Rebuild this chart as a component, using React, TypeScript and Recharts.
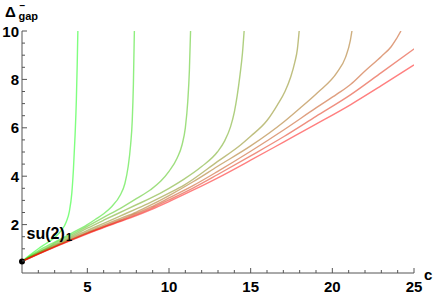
import React from "react";
import { LineChart, Line, XAxis, YAxis, ReferenceDot } from "recharts";

document.body.style.margin = "0";

// each curve: [c, gap] pairs, greenest first
const curve1 = [[1, 0.48], [1.5, 0.75], [2, 1.0], [2.5, 1.23], [3, 1.47], [3.4, 1.75], [3.7, 2.1], [3.9, 2.55], [4.05, 3.3], [4.15, 4.3], [4.25, 5.7], [4.33, 7.2], [4.38, 8.6], [4.42, 10]];
const curve2 = [[1, 0.48], [2, 0.92], [3, 1.28], [4, 1.63], [5, 2.0], [5.5, 2.22], [6, 2.45], [6.5, 2.75], [7, 3.2], [7.3, 3.7], [7.5, 4.4], [7.65, 5.3], [7.75, 6.3], [7.82, 7.8], [7.88, 10]];
const curve3 = [[1, 0.48], [2, 0.87], [3, 1.22], [4, 1.57], [5, 1.93], [6, 2.3], [7, 2.66], [8, 3.07], [8.87, 3.44], [9.5, 3.8], [10, 4.2], [10.5, 4.75], [10.8, 5.3], [11.0, 6.0], [11.15, 7.1], [11.25, 8.4], [11.32, 10]];
const curve4 = [[1, 0.48], [2, 0.84], [3, 1.17], [4, 1.5], [5, 1.85], [6, 2.18], [7, 2.5], [8, 2.82], [8.87, 3.09], [10, 3.5], [10.9, 3.87], [12, 4.4], [12.96, 5.0], [13.4, 5.45], [13.77, 6.05], [14.0, 6.65], [14.18, 7.35], [14.35, 8.2], [14.5, 9.1], [14.6, 10]];
const curve5 = [[1, 0.48], [2, 0.82], [3, 1.13], [4, 1.45], [5, 1.76], [6, 2.05], [7, 2.35], [8, 2.65], [8.87, 2.92], [10, 3.3], [10.9, 3.62], [12.96, 4.6], [14.4, 5.3], [15, 5.65], [16, 6.3], [16.64, 6.95], [17.1, 7.5], [17.45, 8.1], [17.7, 8.7], [17.86, 9.25], [17.97, 10]];
const curve6 = [[1, 0.48], [2, 0.8], [3, 1.1], [4, 1.4], [5, 1.7], [6, 1.98], [7, 2.25], [8, 2.52], [8.87, 2.8], [10, 3.2], [11.5, 3.78], [12.96, 4.4], [15, 5.25], [17.04, 6.25], [18, 6.8], [19.09, 7.45], [20.3, 8.3], [20.8, 8.9], [21.1, 9.6], [21.2, 10]];
const curve7 = [[1, 0.48], [2, 0.79], [3, 1.09], [4, 1.38], [5, 1.66], [6, 1.93], [7, 2.19], [8, 2.46], [8.87, 2.72], [10, 3.1], [11.5, 3.62], [12.96, 4.19], [15, 5.03], [17.04, 5.92], [19, 6.82], [20.3, 7.4], [21.13, 7.8], [22, 8.35], [23, 8.95], [23.6, 9.35], [23.9, 9.65], [24.2, 10]];
const curve8 = [[1, 0.48], [2, 0.78], [3, 1.08], [4, 1.36], [5, 1.64], [6, 1.9], [7, 2.15], [8, 2.41], [8.87, 2.66], [10, 3.02], [11.5, 3.52], [12.96, 4.06], [15, 4.84], [17.04, 5.64], [19, 6.47], [21.13, 7.37], [23, 8.28], [25, 9.26]];
const curve9 = [[1, 0.48], [2, 0.78], [3, 1.07], [4, 1.35], [5, 1.62], [6, 1.88], [7, 2.12], [8, 2.37], [8.87, 2.61], [10, 2.95], [11.5, 3.43], [12.96, 3.92], [15, 4.66], [17.04, 5.42], [19, 6.15], [21.13, 6.96], [23, 7.74], [25, 8.6]];

const curves = [curve1, curve2, curve3, curve4, curve5, curve6, curve7, curve8, curve9];

const startPoint = { c: 1, gap: 0.48 };

const xTicks = [2, 3, 4, 5, 6, 7, 8, 9, 10, 11, 12, 13, 14, 15, 16, 17, 18, 19, 20, 21, 22, 23, 24, 25];
const xLabels = [5, 10, 15, 20, 25];
const yTicks = [0.5, 1, 1.5, 2, 2.5, 3, 3.5, 4, 4.5, 5, 5.5, 6, 6.5, 7, 7.5, 8, 8.5, 9, 9.5, 10];
const yLabels = [2, 4, 6, 8, 10];

const font = "'Liberation Sans', Arial, sans-serif";
const axisColor = "#555";

// green -> red blend, half transparent like the original
const curveColor = (i: number) => {
  const t = i / (curves.length - 1);
  return `rgb(${Math.round(255 * t)}, ${Math.round(255 * (1 - t))}, 0)`;
};

const XTick = (props: any) => {
  const { x, y, payload } = props;
  const major = xLabels.includes(payload.value);
  return (
    <g>
      <line x1={x} x2={x} y1={y} y2={y - (major ? 5 : 3)} stroke={axisColor} />
      {major && (
        <text x={x} y={y + 19} textAnchor="middle" fontFamily={font} fontWeight="bold" fontSize={15} fill="#000">
          {payload.value}
        </text>
      )}
    </g>
  );
};

const YTick = (props: any) => {
  const { x, y, payload } = props;
  const major = yLabels.includes(payload.value);
  return (
    <g>
      <line x1={x} x2={x + (major ? 5 : 3)} y1={y} y2={y} stroke={axisColor} />
      {major && (
        <text x={x - 3} y={y + 5.5} textAnchor="end" fontFamily={font} fontWeight="bold" fontSize={15} fill="#000">
          {payload.value}
        </text>
      )}
    </g>
  );
};

export default function App() {
  return (
    <div style={{ position: "relative", width: 433, height: 297, background: "#fff" }}>
      <LineChart width={433} height={297} margin={{ top: 31, right: 19, bottom: 23, left: 21 }}>
        <XAxis
          type="number"
          dataKey="c"
          domain={[1, 25]}
          ticks={xTicks}
          interval={0}
          height={1}
          tickSize={0}
          tickMargin={0}
          tickLine={false}
          tick={XTick}
          axisLine={{ stroke: axisColor }}
          allowDataOverflow
        />
        <YAxis
          type="number"
          domain={[0, 10]}
          ticks={yTicks}
          interval={0}
          width={1}
          tickSize={0}
          tickMargin={0}
          tickLine={false}
          tick={YTick}
          axisLine={{ stroke: axisColor }}
          allowDataOverflow
        />
        {curves.map((pts, i) => (
          <Line
            key={i}
            data={pts.map(([c, gap]) => ({ c, gap }))}
            dataKey="gap"
            type="monotone"
            stroke={curveColor(i)}
            strokeOpacity={0.5}
            strokeWidth={1.4}
            dot={false}
            activeDot={false}
            isAnimationActive={false}
          />
        ))}
        <ReferenceDot x={startPoint.c} y={startPoint.gap} r={3} fill="#000" stroke="none" ifOverflow="visible" />
      </LineChart>
      <svg width={433} height={297} style={{ position: "absolute", left: 0, top: 0, pointerEvents: "none" }}>
        <g fontFamily={font} fontWeight="bold" fill="#000">
          <text x={5} y={17} fontSize={15}>Δ</text>
          <text x={19.5} y={8.5} fontSize={10}>−</text>
          <text x={18.5} y={19.5} fontSize={11}>gap</text>
          <text x={424} y={280} fontSize={15}>c</text>
          <text x={26.5} y={238.5} fontSize={16}>su(2)</text>
          <text x={66} y={241} fontSize={11}>1</text>
        </g>
      </svg>
    </div>
  );
}
